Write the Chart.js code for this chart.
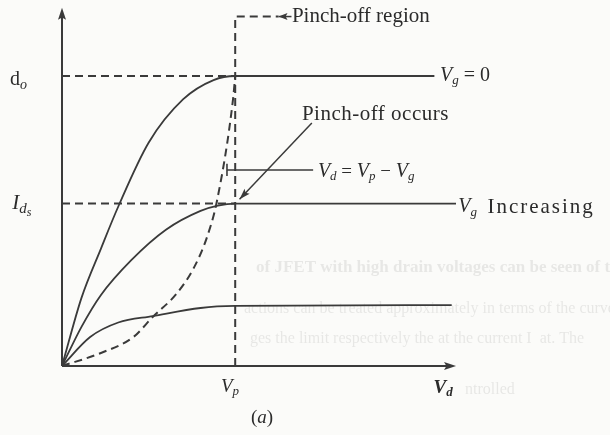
<!DOCTYPE html>
<html>
<head>
<meta charset="utf-8">
<script src="https://cdn.jsdelivr.net/npm/chart.js@4.4.1/dist/chart.umd.min.js"></script>
<style>
  html, body { margin: 0; padding: 0; background: #fbfbf9; }
  canvas { display: block; }
</style>
</head>
<body>
<canvas id="jfetChart" width="610" height="435"></canvas>
<script>
"use strict";

// JFET drain characteristics, arbitrary units (x: V_d, y: I_d)
const vPinch = 4;
const idSat = 10;
const idLevel = 5.6;
const xAxisEnd = 9;
const yAxisTop = 12.1;
const regionTop = 12.05;

// one curve per gate bias, read as [V_d, I_d]
const curveZeroBias = [[0, 0], [0.45, 2.35], [0.9, 4.05], [1.3, 5.5], [2.0, 7.7], [2.8, 9.2], [3.5, 9.86], [4, 10], [8.6, 10]];
const curveMidBias = [[0, 0], [0.45, 1.35], [0.9, 2.45], [1.6, 3.65], [2.4, 4.7], [3.2, 5.35], [3.6, 5.53], [4, 5.6], [9.1, 5.6]];
const curveHighBias = [[0, 0], [0.65, 1.0], [1.3, 1.5], [2.1, 1.72], [3.2, 2.0], [4, 2.07], [9, 2.1]];
// locus of the pinch-off points
const pinchLocus = [[0, 0], [0.9, 0.45], [1.65, 1.0], [2.1, 1.7], [2.65, 2.5], [3.05, 3.4], [3.35, 4.45], [3.58, 5.7], [3.95, 9.2], [4, 10]];

const ink = "#3a3a3a";
const toPts = (arr) => arr.map(([x, y]) => ({ x, y }));

function line(data, extra) {
  return Object.assign({
    data: toPts(data),
    showLine: true,
    borderColor: ink,
    borderWidth: 2,
    pointRadius: 0,
    tension: 0,
    fill: false,
  }, extra || {});
}

const curve = { cubicInterpolationMode: "monotone", borderWidth: 1.8 };
const dashed = { borderDash: [8, 5], borderWidth: 2 };

const datasets = [
  line([[0, 0], [0, yAxisTop]]),
  line([[0, 0], [xAxisEnd, 0]]),
  line(curveZeroBias, curve),
  line(curveMidBias, curve),
  line(curveHighBias, curve),
  line(pinchLocus, Object.assign({ cubicInterpolationMode: "monotone" }, dashed)),
  line([[0, idSat], [vPinch, idSat]], dashed),
  line([[0, idLevel], [vPinch, idLevel]], dashed),
  line([[vPinch, 0], [vPinch, regionTop], [5.0, regionTop]], dashed),
  line([[5.0, regionTop], [5.3, regionTop]], { borderWidth: 1.5 }),
  line([[3.81, 6.76], [5.8, 6.76]], { borderWidth: 1.6 }),
  line([[3.81, 6.55], [3.81, 6.97]], { borderWidth: 1.6 }),
  line([[5.77, 8.38], [4.1, 5.75]], { borderWidth: 1.5 }),
];

function font(p) {
  return (p.i ? "italic " : "") + (p.b ? "bold " : "") + (p.s || 21) + 'px "Liberation Serif"';
}

function rich(ctx, x, y, parts, align) {
  let w = 0;
  parts.forEach((p) => {
    ctx.font = font(p);
    ctx.letterSpacing = (p.ls || 0) + "px";
    w += ctx.measureText(p.t).width;
  });
  let cx = align === "center" ? x - w / 2 : x;
  parts.forEach((p) => {
    ctx.font = font(p);
    ctx.letterSpacing = (p.ls || 0) + "px";
    ctx.fillText(p.t, cx, y + (p.dy || 0));
    cx += ctx.measureText(p.t).width;
  });
  ctx.letterSpacing = "0px";
}

function arrowHead(ctx, tip, from, len, half) {
  const a = Math.atan2(tip.y - from.y, tip.x - from.x);
  ctx.save();
  ctx.translate(tip.x, tip.y);
  ctx.rotate(a);
  ctx.beginPath();
  ctx.moveTo(0, 0);
  ctx.lineTo(-len, -half);
  ctx.lineTo(-len * 0.8, 0);
  ctx.lineTo(-len, half);
  ctx.closePath();
  ctx.fill();
  ctx.restore();
}

// subscripted variable, e.g. V with "g"
const sym = (base, sub, size) => [
  { t: base, i: 1, s: size || 20 },
  { t: sub, i: 1, s: 13, dy: 5 },
];

const annotations = {
  id: "annotations",
  beforeDatasetsDraw(chart) {
    // faint print showing through from the next page
    const ctx = chart.ctx;
    ctx.save();
    ctx.fillStyle = "rgba(70,70,70,0.11)";
    ctx.textBaseline = "middle";
    ctx.font = 'bold 17px "Liberation Serif"';
    ctx.fillText("of JFET with high drain voltages can be seen of th", 256, 268);
    ctx.font = '16px "Liberation Serif"';
    ctx.fillText("actions can be treated approximately in terms of the curve. It", 244, 309);
    ctx.fillText("ges the limit respectively the at the current I  at. The", 250, 339);
    ctx.fillText("ntrolled", 465, 390);
    ctx.restore();
  },
  afterDatasetsDraw(chart) {
    const ctx = chart.ctx;
    const xs = chart.scales.x, ys = chart.scales.y;
    const P = (x, y) => ({ x: xs.getPixelForValue(x), y: ys.getPixelForValue(y) });
    ctx.save();
    ctx.fillStyle = ink;

    // arrowheads
    arrowHead(ctx, P(0, yAxisTop + 0.25), P(0, 0), 12, 4);
    arrowHead(ctx, P(xAxisEnd + 0.1, 0), P(0, 0), 12, 4);
    arrowHead(ctx, P(5.0, regionTop), P(5.3, regionTop), 9, 3.5);
    arrowHead(ctx, P(4.1, 5.75), P(5.77, 8.38), 11, 3.5);

    ctx.fillStyle = "#2b2b2b";
    ctx.textBaseline = "middle";
    let p;
    p = P(5.31, regionTop);
    rich(ctx, p.x, p.y, [{ t: "Pinch-off region" }]);
    p = P(8.73, idSat);
    rich(ctx, p.x, p.y, [...sym("V", "g"), { t: " = 0", s: 20 }]);
    p = P(5.54, 8.66);
    rich(ctx, p.x, p.y, [{ t: "Pinch-off occurs", ls: 0.5 }]);
    p = P(5.91, 6.69);
    rich(ctx, p.x, p.y, [...sym("V", "d"), { t: " = ", s: 19 }, ...sym("V", "p"),
      { t: " \u2212 ", s: 19 }, ...sym("V", "g")]);
    p = P(9.15, 5.48);
    rich(ctx, p.x, p.y, [...sym("V", "g"), { t: "  " }, { t: "Increasing", ls: 2 }]);
    p = P(-1.2, 9.86);
    rich(ctx, p.x, p.y, [{ t: "d", s: 20 }, { t: "o", i: 1, s: 14, dy: 5 }]);
    p = P(-1.15, 5.6);
    rich(ctx, p.x, p.y, [{ t: "I", i: 1, s: 21 }, { t: "d", i: 1, s: 15, dy: 5 }, { t: "s", i: 1, s: 12, dy: 9 }]);
    p = P(3.88, -0.72);
    rich(ctx, p.x, p.y, sym("V", "p", 19), "center");
    p = P(8.8, -0.76);
    rich(ctx, p.x, p.y, [{ t: "V", i: 1, b: 1, s: 19 }, { t: "d", i: 1, b: 1, s: 13, dy: 5 }], "center");
    p = P(4.62, -1.79);
    rich(ctx, p.x, p.y, [{ t: "(", s: 19 }, { t: "a", i: 1, s: 19 }, { t: ")", s: 19 }], "center");
    ctx.restore();
  },
};

new Chart(document.getElementById("jfetChart").getContext("2d"), {
  type: "scatter",
  data: { datasets },
  options: {
    responsive: false,
    animation: false,
    layout: { padding: { left: 62, right: 115, top: 3.5, bottom: 69 } },
    plugins: { legend: { display: false }, tooltip: { enabled: false } },
    scales: {
      x: { type: "linear", min: 0, max: 10, display: false },
      y: { type: "linear", min: 0, max: 12.5, display: false },
    },
    clip: false,
  },
  plugins: [annotations],
});
</script>
</body>
</html>
